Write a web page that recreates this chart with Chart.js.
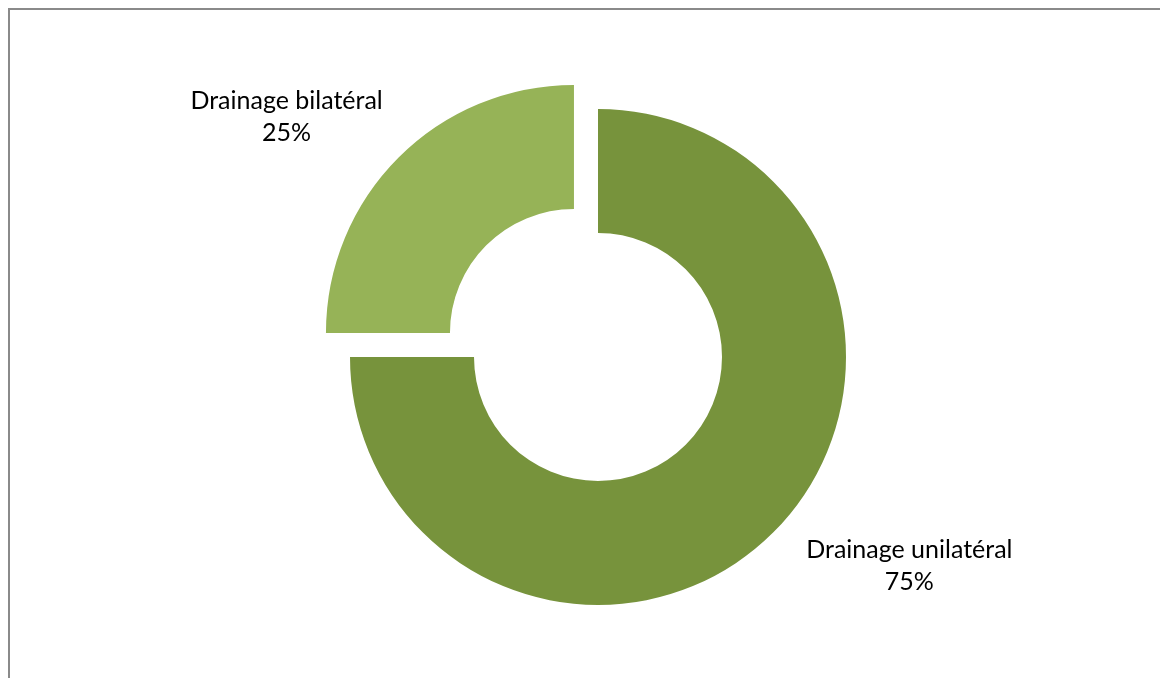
<!DOCTYPE html>
<html>
<head>
<meta charset="utf-8">
<title>Drainage</title>
<script src="https://cdn.jsdelivr.net/npm/chart.js@4/dist/chart.umd.min.js"></script>
<style>
  html, body { margin: 0; padding: 0; background: #fff; overflow: hidden; }
  canvas { display: block; }
</style>
</head>
<body>
<canvas id="chart" width="1160" height="678"></canvas>
<script>
// categories and shares (%)
const categories = ['Drainage unilatéral', 'Drainage bilatéral'];
const shares = [75, 25];
const sliceColors = ['#77933C', '#96B357'];
// only the bilateral slice is pulled out of the ring
const sliceOffsets = [0, 136];
// label centre relative to the outer edge at the slice's mid angle
const labelShift = [[136, 34], [-112, -41]];

// grey frame along the top and left edges
const framePlugin = {
  id: 'frame',
  beforeDraw(chart) {
    const ctx = chart.ctx;
    ctx.save();
    ctx.strokeStyle = '#8a8a8a';
    ctx.lineWidth = 2;
    ctx.beginPath();
    ctx.moveTo(9, chart.height);
    ctx.lineTo(9, 9);
    ctx.lineTo(chart.width, 9);
    ctx.stroke();
    ctx.restore();
  }
};

// category name + percentage outside each slice
const sliceLabels = {
  id: 'sliceLabels',
  afterDatasetsDraw(chart) {
    const ctx = chart.ctx;
    const meta = chart.getDatasetMeta(0);
    ctx.save();
    ctx.fillStyle = '#000';
    ctx.font = '25px Lato';
    ctx.textAlign = 'center';
    ctx.textBaseline = 'middle';
    meta.data.forEach((arc, i) => {
      const p = arc.getProps(['x', 'y', 'startAngle', 'endAngle', 'outerRadius']);
      const mid = (p.startAngle + p.endAngle) / 2;
      const shift = sliceOffsets[i] / 4;
      const r = p.outerRadius + shift;
      const x = p.x + Math.cos(mid) * r + labelShift[i][0];
      const y = p.y + Math.sin(mid) * r + labelShift[i][1];
      ctx.fillText(categories[i], x, y - 16);
      ctx.fillText(shares[i] + '%', x, y + 16);
    });
    ctx.restore();
  }
};

new Chart(document.getElementById('chart'), {
  type: 'doughnut',
  data: {
    labels: categories,
    datasets: [{
      data: shares,
      backgroundColor: sliceColors,
      borderWidth: 0,
      offset: sliceOffsets
    }]
  },
  options: {
    responsive: false,
    animation: false,
    radius: 248,
    cutout: '50%',
    layout: { padding: { left: 36, top: 36, right: 0, bottom: 0 } },
    plugins: {
      legend: { display: false },
      tooltip: { enabled: false }
    }
  },
  plugins: [framePlugin, sliceLabels]
});
</script>
</body>
</html>
